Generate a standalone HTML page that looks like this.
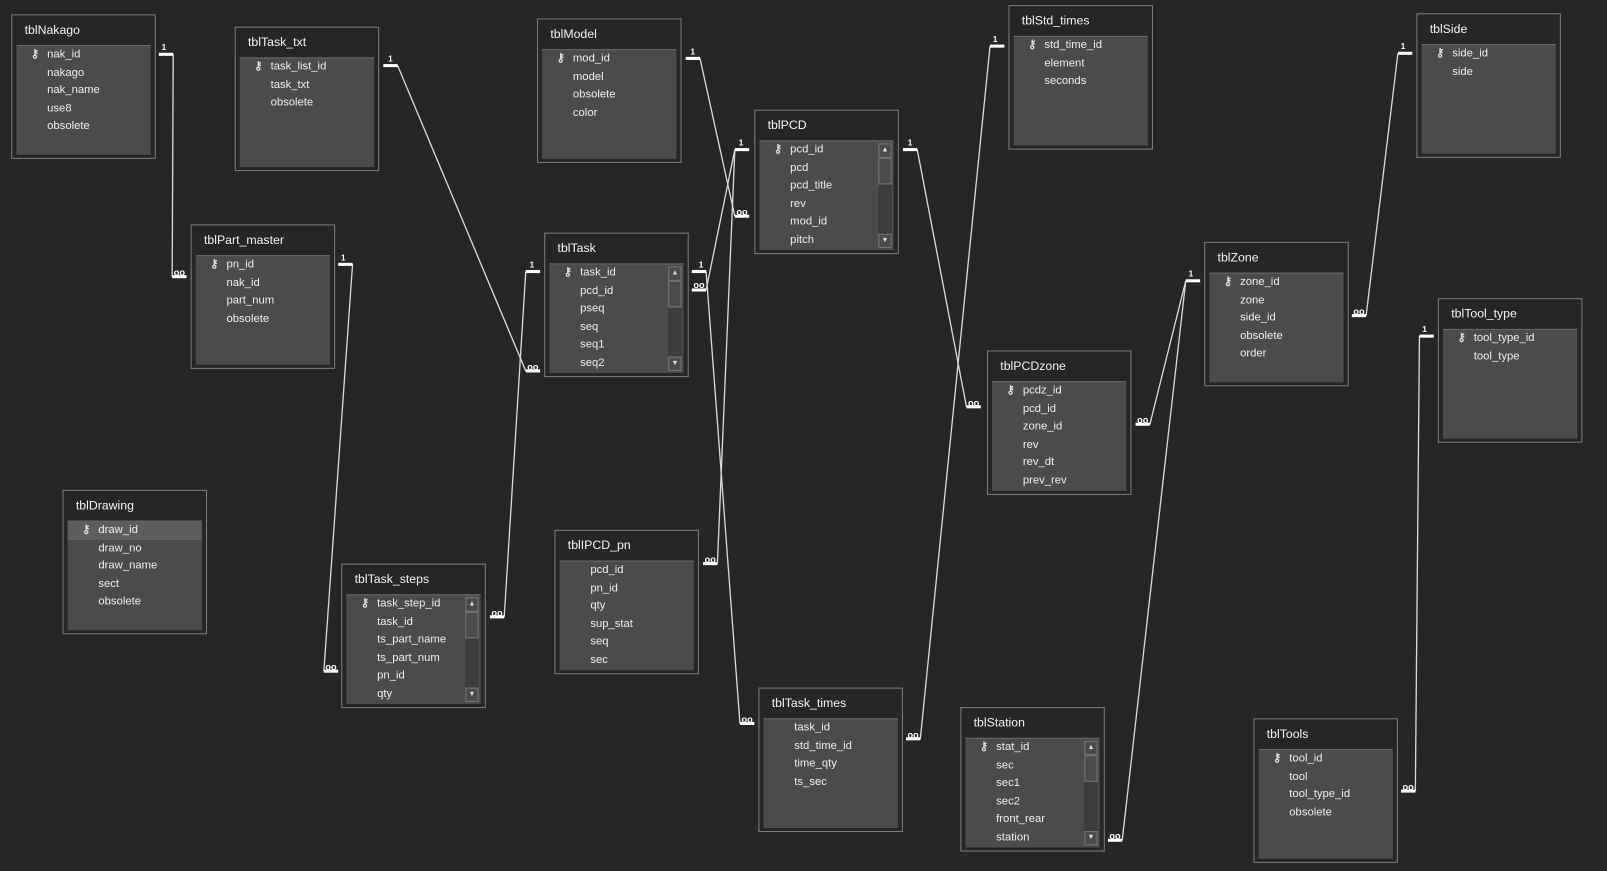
<!DOCTYPE html>
<html><head><meta charset="utf-8"><style>
html,body{margin:0;padding:0;background:#262626;width:1607px;height:871px;overflow:hidden}
#c{position:absolute;left:0;top:0;width:1568px;height:850px;transform-origin:0 0;transform:scale(1.02487,1.02471);font-family:"Liberation Sans",sans-serif;color:#f0f0f0}
.t{position:absolute;width:141px;height:141px;border:1px solid #7d7d7d;box-sizing:border-box;background:#262626}
.t .h{position:absolute;left:12px;top:7px;font-size:12px;color:#f4f4f4}
.t .f{position:absolute;left:4px;right:4px;top:29px;bottom:3px;background:#4b4b4b;border-top:1px solid #6a6a6a;overflow:hidden}
.t .r{position:absolute;left:0;right:0;height:17.6px;line-height:17.6px;font-size:11px;padding-left:30px;color:#eee;white-space:nowrap}
.t .r.sel{background:#5e5e5e}
.t .k{position:absolute;left:14px;top:0;font-size:11px;font-weight:bold;color:#ddd}
.t .sb{position:absolute;right:2px;top:2px;bottom:2px;width:13px;background:#3c3c3c}
.t .sb .u,.t .sb .d{position:absolute;left:0;width:11px;height:12px;border:1px solid #777;font-size:7px;line-height:12px;text-align:center;color:#ddd;background:#4b4b4b}
.t .sb .u{top:0}.t .sb .d{bottom:0}
.t .sb .th{position:absolute;left:0;top:14px;width:11px;height:24px;border:1px solid #777;background:#4b4b4b}
svg{position:absolute;left:0;top:0}
</style></head><body><div id="c">
<svg width="1568" height="850">
<g stroke="#d9d9d9" stroke-width="1.3" fill="none">
<line x1="169" y1="53" x2="168" y2="270"/>
<line x1="388" y1="64" x2="513" y2="362"/>
<line x1="683" y1="57" x2="717" y2="211"/>
<line x1="717" y1="146" x2="689" y2="283"/>
<line x1="700" y1="550" x2="717" y2="146"/>
<line x1="689" y1="265" x2="722" y2="706"/>
<line x1="513" y1="265" x2="492" y2="602"/>
<line x1="344" y1="258" x2="316" y2="655"/>
<line x1="895" y1="146" x2="943" y2="397"/>
<line x1="966" y1="45" x2="898" y2="721"/>
<line x1="1364" y1="52" x2="1333" y2="308"/>
<line x1="1157" y1="274" x2="1122" y2="414"/>
<line x1="1157" y1="274" x2="1095" y2="820"/>
<line x1="1385" y1="328" x2="1381" y2="772"/>
</g>
<g stroke="#fff" stroke-width="3">
<line x1="155" y1="53" x2="169" y2="53"/><line x1="168" y1="270" x2="182" y2="270"/>
<line x1="374" y1="64" x2="388" y2="64"/><line x1="513" y1="362" x2="527" y2="362"/>
<line x1="669" y1="57" x2="683" y2="57"/><line x1="717" y1="211" x2="731" y2="211"/>
<line x1="717" y1="146" x2="731" y2="146"/><line x1="675" y1="283" x2="689" y2="283"/>
<line x1="686" y1="550" x2="700" y2="550"/>
<line x1="675" y1="265" x2="689" y2="265"/><line x1="722" y1="706" x2="736" y2="706"/>
<line x1="513" y1="265" x2="527" y2="265"/><line x1="478" y1="602" x2="492" y2="602"/>
<line x1="330" y1="258" x2="344" y2="258"/><line x1="316" y1="655" x2="330" y2="655"/>
<line x1="881" y1="146" x2="895" y2="146"/><line x1="943" y1="397" x2="957" y2="397"/>
<line x1="966" y1="45" x2="980" y2="45"/><line x1="884" y1="721" x2="898" y2="721"/>
<line x1="1364" y1="52" x2="1378" y2="52"/><line x1="1319" y1="308" x2="1333" y2="308"/>
<line x1="1157" y1="274" x2="1171" y2="274"/><line x1="1108" y1="414" x2="1122" y2="414"/>
<line x1="1081" y1="820" x2="1095" y2="820"/>
<line x1="1385" y1="328" x2="1399" y2="328"/><line x1="1367" y1="772" x2="1381" y2="772"/>
</g>
<g fill="#fff" font-family="Liberation Sans,sans-serif" font-weight="bold" font-size="8" text-anchor="middle">
<text x="160" y="49">1</text><text x="381" y="60">1</text><text x="676" y="53">1</text><text x="723" y="142">1</text>
<text x="684" y="261">1</text><text x="519" y="261">1</text><text x="335" y="254">1</text><text x="888" y="142">1</text>
<text x="971" y="41">1</text><text x="1369" y="48">1</text><text x="1162" y="270">1</text><text x="1390" y="324">1</text>
</g>
<g fill="#fff" font-family="Liberation Sans,sans-serif" font-weight="bold" font-size="9" text-anchor="middle">
<text x="175" y="269">oo</text><text x="520" y="361">oo</text><text x="724" y="210">oo</text><text x="682" y="281">oo</text>
<text x="693" y="549">oo</text><text x="729" y="705">oo</text><text x="485" y="601">oo</text><text x="323" y="654">oo</text>
<text x="950" y="396">oo</text><text x="891" y="720">oo</text><text x="1326" y="307">oo</text><text x="1115" y="413">oo</text>
<text x="1088" y="819">oo</text><text x="1374" y="771">oo</text>
</g>
</svg>

<div class="t" style="left:11px;top:14px"><div class="h">tblNakago</div><div class="f">
<div class="r" style="top:0"><span class="k">⚷</span>nak_id</div><div class="r" style="top:17.6px">nakago</div><div class="r" style="top:35.2px">nak_name</div><div class="r" style="top:52.8px">use8</div><div class="r" style="top:70.4px">obsolete</div></div></div>

<div class="t" style="left:229px;top:26px"><div class="h">tblTask_txt</div><div class="f">
<div class="r" style="top:0"><span class="k">⚷</span>task_list_id</div><div class="r" style="top:17.6px">task_txt</div><div class="r" style="top:35.2px">obsolete</div></div></div>

<div class="t" style="left:524px;top:18px"><div class="h">tblModel</div><div class="f">
<div class="r" style="top:0"><span class="k">⚷</span>mod_id</div><div class="r" style="top:17.6px">model</div><div class="r" style="top:35.2px">obsolete</div><div class="r" style="top:52.8px">color</div></div></div>

<div class="t" style="left:736px;top:107px"><div class="h">tblPCD</div><div class="f">
<div class="r" style="top:0"><span class="k">⚷</span>pcd_id</div><div class="r" style="top:17.6px">pcd</div><div class="r" style="top:35.2px">pcd_title</div><div class="r" style="top:52.8px">rev</div><div class="r" style="top:70.4px">mod_id</div><div class="r" style="top:88px">pitch</div>
<div class="sb"><div class="u">▲</div><div class="th"></div><div class="d">▼</div></div></div></div>

<div class="t" style="left:984px;top:5px"><div class="h">tblStd_times</div><div class="f">
<div class="r" style="top:0"><span class="k">⚷</span>std_time_id</div><div class="r" style="top:17.6px">element</div><div class="r" style="top:35.2px">seconds</div></div></div>

<div class="t" style="left:1382px;top:13px"><div class="h">tblSide</div><div class="f">
<div class="r" style="top:0"><span class="k">⚷</span>side_id</div><div class="r" style="top:17.6px">side</div></div></div>

<div class="t" style="left:186px;top:219px"><div class="h">tblPart_master</div><div class="f">
<div class="r" style="top:0"><span class="k">⚷</span>pn_id</div><div class="r" style="top:17.6px">nak_id</div><div class="r" style="top:35.2px">part_num</div><div class="r" style="top:52.8px">obsolete</div></div></div>

<div class="t" style="left:531px;top:227px"><div class="h">tblTask</div><div class="f">
<div class="r" style="top:0"><span class="k">⚷</span>task_id</div><div class="r" style="top:17.6px">pcd_id</div><div class="r" style="top:35.2px">pseq</div><div class="r" style="top:52.8px">seq</div><div class="r" style="top:70.4px">seq1</div><div class="r" style="top:88px">seq2</div>
<div class="sb"><div class="u">▲</div><div class="th"></div><div class="d">▼</div></div></div></div>

<div class="t" style="left:1175px;top:236px"><div class="h">tblZone</div><div class="f">
<div class="r" style="top:0"><span class="k">⚷</span>zone_id</div><div class="r" style="top:17.6px">zone</div><div class="r" style="top:35.2px">side_id</div><div class="r" style="top:52.8px">obsolete</div><div class="r" style="top:70.4px">order</div></div></div>

<div class="t" style="left:1403px;top:291px"><div class="h">tblTool_type</div><div class="f">
<div class="r" style="top:0"><span class="k">⚷</span>tool_type_id</div><div class="r" style="top:17.6px">tool_type</div></div></div>

<div class="t" style="left:963px;top:342px"><div class="h">tblPCDzone</div><div class="f">
<div class="r" style="top:0"><span class="k">⚷</span>pcdz_id</div><div class="r" style="top:17.6px">pcd_id</div><div class="r" style="top:35.2px">zone_id</div><div class="r" style="top:52.8px">rev</div><div class="r" style="top:70.4px">rev_dt</div><div class="r" style="top:88px">prev_rev</div></div></div>

<div class="t" style="left:61px;top:478px"><div class="h">tblDrawing</div><div class="f">
<div class="r sel" style="top:0"><span class="k">⚷</span>draw_id</div><div class="r" style="top:17.6px">draw_no</div><div class="r" style="top:35.2px">draw_name</div><div class="r" style="top:52.8px">sect</div><div class="r" style="top:70.4px">obsolete</div></div></div>

<div class="t" style="left:541px;top:517px"><div class="h">tblIPCD_pn</div><div class="f">
<div class="r" style="top:0">pcd_id</div><div class="r" style="top:17.6px">pn_id</div><div class="r" style="top:35.2px">qty</div><div class="r" style="top:52.8px">sup_stat</div><div class="r" style="top:70.4px">seq</div><div class="r" style="top:88px">sec</div></div></div>

<div class="t" style="left:333px;top:550px"><div class="h">tblTask_steps</div><div class="f">
<div class="r" style="top:0"><span class="k">⚷</span>task_step_id</div><div class="r" style="top:17.6px">task_id</div><div class="r" style="top:35.2px">ts_part_name</div><div class="r" style="top:52.8px">ts_part_num</div><div class="r" style="top:70.4px">pn_id</div><div class="r" style="top:88px">qty</div>
<div class="sb"><div class="u">▲</div><div class="th"></div><div class="d">▼</div></div></div></div>

<div class="t" style="left:740px;top:671px"><div class="h">tblTask_times</div><div class="f">
<div class="r" style="top:0">task_id</div><div class="r" style="top:17.6px">std_time_id</div><div class="r" style="top:35.2px">time_qty</div><div class="r" style="top:52.8px">ts_sec</div></div></div>

<div class="t" style="left:937px;top:690px"><div class="h">tblStation</div><div class="f">
<div class="r" style="top:0"><span class="k">⚷</span>stat_id</div><div class="r" style="top:17.6px">sec</div><div class="r" style="top:35.2px">sec1</div><div class="r" style="top:52.8px">sec2</div><div class="r" style="top:70.4px">front_rear</div><div class="r" style="top:88px">station</div>
<div class="sb"><div class="u">▲</div><div class="th"></div><div class="d">▼</div></div></div></div>

<div class="t" style="left:1223px;top:701px"><div class="h">tblTools</div><div class="f">
<div class="r" style="top:0"><span class="k">⚷</span>tool_id</div><div class="r" style="top:17.6px">tool</div><div class="r" style="top:35.2px">tool_type_id</div><div class="r" style="top:52.8px">obsolete</div></div></div>
</div></body></html>
